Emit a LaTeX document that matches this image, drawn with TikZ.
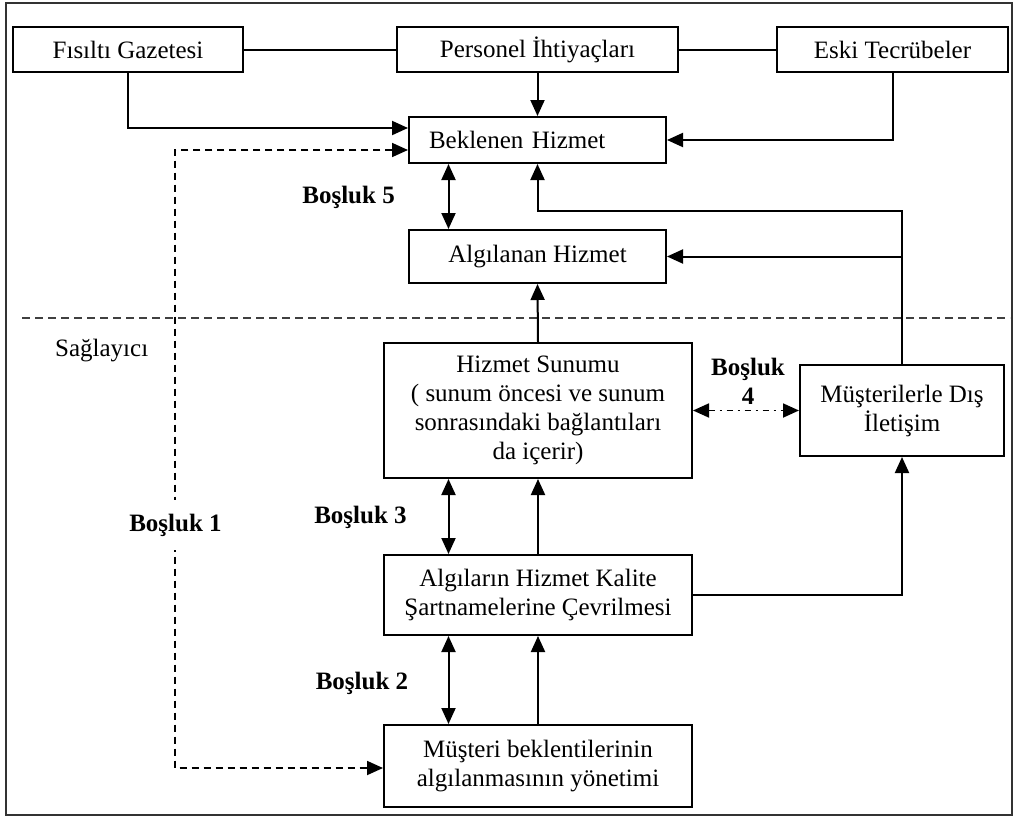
\documentclass[tikz,border=0pt]{standalone}
\usepackage{fontspec}
\setmainfont{Liberation Serif}
\usetikzlibrary{arrows.meta}
\begin{document}
\begin{tikzpicture}[x=1pt,y=-1pt,
  font=\fontsize{25}{29}\selectfont,
  >={Triangle[length=16pt,width=14pt]},
  box/.style={draw, line width=2pt, inner sep=0pt, align=center},
  conn/.style={line width=2pt},
  gapline/.style={line width=1.8pt, dash pattern=on 7pt off 5pt},
  commline/.style={line width=1.8pt, dash pattern=on 6pt off 5pt on 2pt off 5pt},
  sepline/.style={line width=1.5pt, black!75, dash pattern=on 8pt off 5pt},
  gaplabel/.style={font=\fontsize{25}{29}\selectfont\bfseries, align=center, inner sep=0pt}
]
\useasboundingbox (0,0) rectangle (1018,819);

% outer frame
\draw[line width=2.2pt, black!80] (6,3) rectangle (1012,815);

% customer side: sources of expectation
\node[box, minimum width=230pt, minimum height=45pt] (fis) at (128,49.5) {Fısıltı Gazetesi};
\node[box, minimum width=281pt, minimum height=45pt] (per) at (537.5,49.5) {Personel İhtiyaçları};
\node[box, minimum width=231pt, minimum height=45pt] (eski) at (892.5,49.5) {Eski Tecrübeler};

\node[box, minimum width=257pt, minimum height=46pt, text width=217pt, align=left] (bek) at (537.5,140) {Beklenen Hizmet};
\node[box, minimum width=257pt, minimum height=53pt] (alg) at (537.5,256.5) {Algılanan Hizmet};

% provider side
\node[box, minimum width=308pt, minimum height=135pt] (sun) at (538,410.5)
  {Hizmet Sunumu\\( sunum öncesi ve sunum\\sonrasındaki bağlantıları\\da içerir)};
\node[box, minimum width=204pt, minimum height=91pt] (mus) at (902,410.5)
  {Müşterilerle Dış\\İletişim};
\node[box, minimum width=308pt, minimum height=80pt] (art) at (538,595)
  {Algıların Hizmet Kalite\\Şartnamelerine Çevrilmesi};
\node[box, minimum width=308pt, minimum height=82pt] (yon) at (538,766)
  {Müşteri beklentilerinin\\algılanmasının yönetimi};

% customer / provider boundary
\coordinate (sepL) at (22,318);
\coordinate (sepR) at (1010,318);
\draw[sepline] (sepL) -- (sepR);
\node[anchor=west, inner sep=0pt] (sag) at (55,351) {Sağlayıcı};

% connectors in the top row
\draw[conn] (fis.east) -- (per.west);
\draw[conn] (per.east) -- (eski.west);
\draw[conn,->] (per.south) -- (bek.north);
\draw[conn,->] (fis.south) |- ([yshift=12pt]bek.west);
\draw[conn,->] (eski.south) |- (bek.east);

% gap 5
\draw[conn,<->] ([xshift=-89pt]bek.south) -- ([xshift=-89pt]alg.north);
\node[gaplabel, anchor=east] (b5) at (395,197) {Boşluk 5};

% feedback from external communication
\coordinate (fb) at (537.5,211);
\draw[conn,->] (mus.north) |- (fb) -- (bek.south);
\draw[conn,->] (mus.north |- alg.east) -- (alg.east);

% service delivery upward
\draw[conn,->] (sun.north) -- (alg.south);

% gap 4
\draw[commline,<->] (sun.east) -- (mus.west);
\node[gaplabel] (b4) at (748,381.5) {Boşluk\\4};

% gap 3
\draw[conn,<->] ([xshift=-89.5pt]sun.south) -- ([xshift=-89.5pt]art.north);
\draw[conn,->] (art.north) -- (sun.south);
\node[gaplabel] (b3) at (360.5,517) {Boşluk 3};

% specifications to external communication
\draw[conn,->] (art.east) -| (mus.south);

% gap 2
\draw[conn,<->] ([xshift=-89.5pt]art.south) -- ([xshift=-89.5pt]yon.north);
\draw[conn,->] (yon.north) -- (art.south);
\node[gaplabel] (b2) at (362,683) {Boşluk 2};

% gap 1
\coordinate (g1) at (175,460);
\draw[gapline,<->] ([yshift=-10pt]bek.west) -| (g1) |- ([yshift=-2pt]yon.west);
\node[gaplabel, fill=white, inner ysep=14pt, inner xsep=2pt] (b1) at (175.5,525) {Boşluk 1};

\end{tikzpicture}
\end{document}
